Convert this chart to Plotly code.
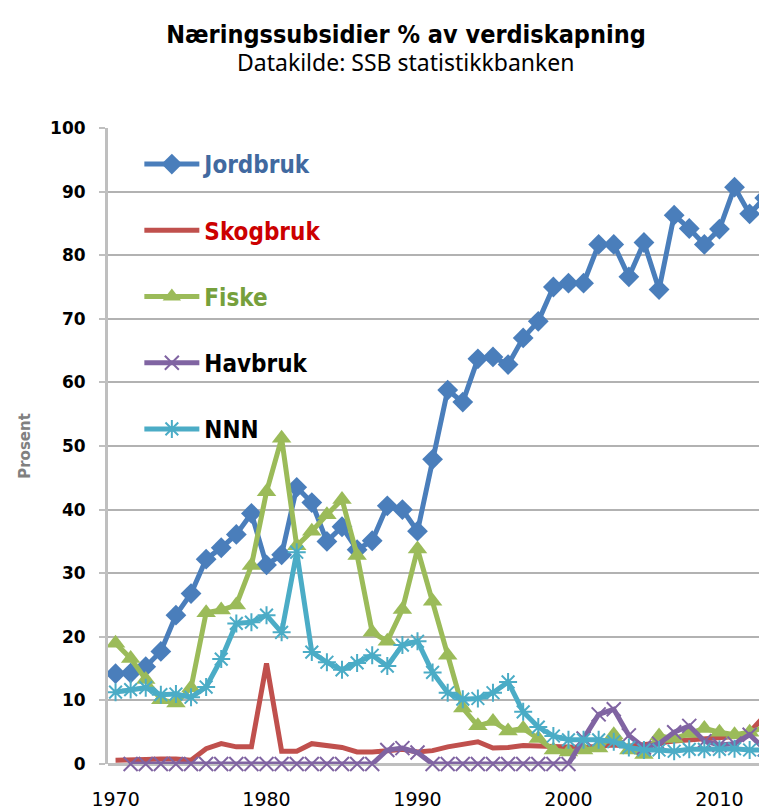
import plotly.graph_objects as go

years = list(range(1970, 2014))

jordbruk = [14.2, 14.3, 15.3, 17.7, 23.4, 26.8, 32.2, 34.0, 36.1, 39.4,
            31.3, 32.9, 43.5, 41.1, 35.0, 37.3, 33.7, 35.1, 40.6, 40.0,
            36.6, 47.9, 58.8, 56.9, 63.7, 64.0, 62.8, 67.0, 69.6, 75.0,
            75.6, 75.6, 81.7, 81.7, 76.6, 82.0, 74.6, 86.3, 84.2, 81.7,
            84.1, 90.7, 86.5, 89.0]

skogbruk = [0.6, 0.6, 0.7, 0.8, 0.8, 0.6, 2.4, 3.2, 2.7, 2.7,
            15.8, 2.0, 2.0, 3.2, 2.9, 2.6, 1.9, 1.9, 2.1, 2.3,
            1.9, 2.1, 2.7, 3.2, 3.5, 2.5, 2.6, 2.9, 2.8, 2.7,
            2.6, 2.6, 2.8, 3.0, 2.8, 3.0, 3.3, 3.6, 3.8, 4.0,
            4.2, 4.3, 5.0, 7.6]

fiske = [19.0, 16.6, 13.3, 10.1, 9.6, 12.0, 23.8, 24.2, 25.0, 31.2,
         42.8, 51.2, 34.3, 36.6, 39.2, 41.6, 32.8, 20.7, 19.3, 24.3,
         33.8, 25.6, 17.1, 8.8, 6.0, 6.7, 5.2, 5.6, 4.0, 2.2,
         1.9, 2.2, 2.5, 4.6, 2.2, 1.5, 4.4, 4.0, 4.8, 5.6,
         5.0, 4.6, 5.0, 5.8]

havbruk = [None, 0, 0, 0, 0, 0, 0, 0, 0, 0,
           0, 0, 0, 0, 0, 0, 0, 0, 2.2, 2.5,
           1.8, 0, 0, 0, 0, 0, 0, 0, 0, 0,
           0, 4.0, 7.8, 8.6, 4.5, 2.6, 3.2, 5.0, 6.0, 3.6,
           3.0, 3.2, 4.6, 2.3]

nnn = [11.3, 11.7, 12.0, 10.9, 11.0, 10.5, 12.1, 16.5, 22.1, 22.3,
       23.4, 20.7, 33.3, 17.6, 16.0, 14.8, 15.9, 17.1, 15.4, 18.7,
       19.3, 14.4, 11.2, 10.2, 10.3, 11.2, 12.9, 8.2, 5.8, 4.4,
       3.8, 3.8, 3.8, 3.5, 2.6, 2.2, 2.2, 2.0, 2.3, 2.3,
       2.3, 2.4, 2.2, 2.2]

x_ticks = [1970, 1980, 1990, 2000, 2010]
y_ticks = [0, 10, 20, 30, 40, 50, 60, 70, 80, 90, 100]

series = [
    ("Jordbruk", jordbruk, "#4A7EBB", "#4169A0", dict(symbol="diamond", size=16)),
    ("Skogbruk", skogbruk, "#C0504D", "#CC0000", None),
    ("Fiske", fiske, "#9BBB59", "#76A03C", dict(symbol="triangle-up", size=17)),
    ("Havbruk", havbruk, "#8064A2", "#000000",
     dict(symbol="x-thin-open", size=14, line=dict(width=2, color="#8064A2"))),
    ("NNN", nnn, "#4BACC6", "#000000",
     dict(symbol="asterisk-open", size=15, line=dict(width=2, color="#4BACC6"))),
]

fig = go.Figure()
for i, (name, vals, col, tcol, mk) in enumerate(series):
    kw = {}
    if mk is None:
        mode = "lines"
    else:
        mode = "lines+markers"
        m = dict(mk)
        m.setdefault("color", col)
        kw["marker"] = m
    fig.add_trace(go.Scatter(
        x=years, y=vals, mode=mode,
        name=f'<span style="color:{tcol}">{name}</span>',
        line=dict(color=col, width=5),
        legendgroup=f"g{i}",
        cliponaxis=False,
        connectgaps=False,
        **kw,
    ))

narrow = "Liberation Sans Narrow, DejaVu Sans Condensed, Arial Narrow, sans-serif"

# the page body adds an 8px offset; figure coordinates are compensated for it
fig.update_layout(
    width=767, height=810,
    margin=dict(l=100, r=0, t=120, b=54, autoexpand=False),
    paper_bgcolor="white", plot_bgcolor="white",
    title=dict(
        text="Næringssubsidier % av verdiskapning",
        font=dict(family=narrow, size=25, color="black", weight="bold"),
        x=398 / 767, xref="container", xanchor="center",
        y=1 - 26 / 810, yref="container", yanchor="middle",
    ),
    showlegend=True,
    legend=dict(
        x=0.047, y=0.978, xanchor="left", yanchor="top",
        bgcolor="rgba(0,0,0,0)",
        font=dict(family=narrow, size=24, weight="bold"),
        traceorder="grouped", tracegroupgap=32,
        itemwidth=55,
    ),
    xaxis=dict(
        range=[1969.5, 2013.68],
        tickmode="array", tickvals=x_ticks,
        ticks="", showgrid=False, zeroline=False,
        showline=False, automargin=False,
        tickfont=dict(family="DejaVu Sans", size=19, color="black"),
        ticklabelstandoff=22,
    ),
    yaxis=dict(
        range=[0, 100], automargin=False,
        tickmode="array", tickvals=y_ticks,
        ticks="outside", ticklen=6, tickwidth=2, tickcolor="#BFBFBF",
        showgrid=True, gridcolor="#B2B2B2", gridwidth=1.5,
        zeroline=True, zerolinecolor="#BFBFBF", zerolinewidth=3,
        showline=True, linecolor="#BFBFBF", linewidth=3,
        tickfont=dict(family="DejaVu Sans", size=17, color="black", weight="bold"),
        ticklabelstandoff=10,
        title=dict(text="Prosent", font=dict(family="DejaVu Sans", size=15,
                                             color="#808080", weight="bold"),
                   standoff=16),
    ),
    annotations=[dict(
        text="Datakilde: SSB statistikkbanken",
        xref="paper", yref="paper",
        x=(398 - 100) / 667, y=(756 - 54) / 636,
        xanchor="center", yanchor="middle", showarrow=False,
        font=dict(family="Noto Sans, Open Sans, sans-serif", size=23, color="black"),
    )],
)

fig.write_html("out.html")
